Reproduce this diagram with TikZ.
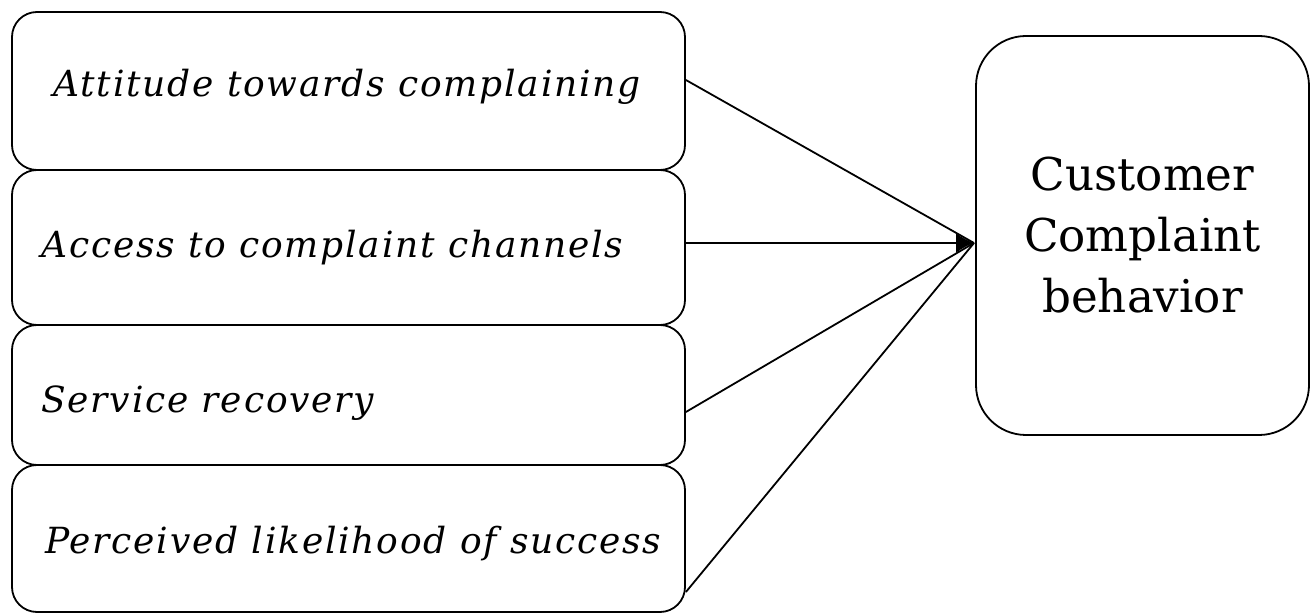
\documentclass[tikz,border=0pt]{standalone}
\usepackage{fontspec}
\setmainfont{DejaVu Serif}
\newfontfamily\lblfont[LetterSpace=5]{DejaVu Serif}
\usetikzlibrary{arrows.meta}
\begin{document}
\begin{tikzpicture}[x=0.5pt,y=-0.5pt,
  box/.style={draw, line width=0.9pt, rounded corners=12.5pt, inner sep=0pt},
  lbl/.style={anchor=base west, inner sep=0pt, font=\lblfont\fontsize{18}{20}\selectfont\itshape},
  link/.style={line width=0.9pt}]
\useasboundingbox (0,0) rectangle (1312,614);
\node[box, minimum width=336.5pt, minimum height=79pt] (b1) at (348.5,91) {};
\node[box, minimum width=336.5pt, minimum height=77.5pt] (b2) at (348.5,247.5) {};
\node[box, minimum width=336.5pt, minimum height=70pt] (b3) at (348.5,395) {};
\node[box, minimum width=336.5pt, minimum height=73.5pt] (b4) at (348.5,538.5) {};
\node[lbl] (t1) at (53,97) {Attitude towards complaining};
\node[lbl] (t2) at (41,258) {Access to complaint channels};
\node[lbl] (t3) at (41,413) {Service recovery};
\node[lbl] (t4) at (45,553) {Perceived likelihood of success};
\node[box, rounded corners=25pt, minimum width=166.5pt, minimum height=199.5pt,
  align=center, font=\fontsize{22.6}{30.5}\selectfont] (r) at (1142.5,235.5)
  {Customer\\Complaint\\behavior};
\coordinate (tip) at (974,243);
\draw[link] ([yshift=5.5pt]b1.east) -- (tip);
\draw[link, -{Latex[length=9pt,width=10pt]}] ([yshift=2.25pt]b2.east) -- (tip);
\draw[link] ([yshift=-8.5pt]b3.east) -- (tip);
\draw[link] ([yshift=-26.75pt]b4.east) -- (tip);
\end{tikzpicture}
\end{document}
